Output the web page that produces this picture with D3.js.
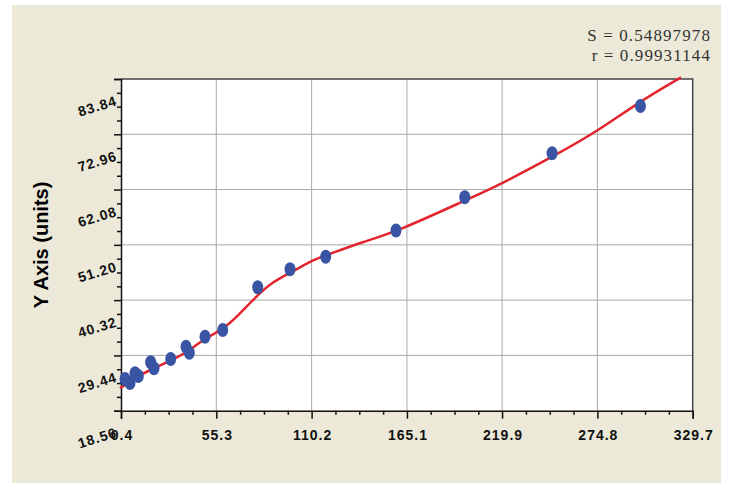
<!DOCTYPE html>
<html>
<head>
<meta charset="utf-8">
<script src="https://cdn.jsdelivr.net/npm/d3@7"></script>
<style>
  html, body { margin: 0; padding: 0; background: #ffffff; }
  svg { display: block; }
</style>
</head>
<body>
<div id="chart"></div>
<script>
// Tick labels of both axes
const xTicks = [0.4, 55.3, 110.2, 165.1, 219.9, 274.8, 329.7];
const yTicks = [18.56, 29.44, 40.32, 51.20, 62.08, 72.96, 83.84];

// Measured standards (x, y)
const pointX = [2.70, 5.58, 8.47, 10.37, 17.51, 19.41, 29.03, 37.84, 39.75, 48.79,
                58.99, 79.15, 97.76, 118.3, 158.8, 198.4, 248.7, 299.6];
const pointY = [24.80, 24.01, 25.92, 25.39, 28.09, 26.90, 28.73, 31.16, 29.97, 33.12,
                34.44, 42.85, 46.39, 48.87, 54.02, 60.56, 69.22, 78.53];

// Fitted curve
const curveX = [-0.18, 9.44, 19.01, 29.03, 38.82, 48.79, 58.99, 67.97, 77.59, 87.96,
                98.74, 112.2, 118.9, 140.0, 159.2, 199.1, 218.3, 249.1, 276.0, 299.0, 323.0];
const curveY = [22.97, 25.25, 26.90, 28.34, 30.17, 32.81, 34.54, 37.30, 40.84, 43.99,
                45.86, 48.42, 49.20, 51.82, 53.79, 60.03, 62.98, 68.55, 73.80, 79.37, 84.17];

const statLines = ['S = 0.54897978', 'r = 0.99931144'];
const yTitle = 'Y Axis (units)';

function drawChart(containerId)
{
    const width = 732;
    const height = 489;
    const plot = { left: 121, right: 692.7, top: 79, bottom: 410.7 };

    const svg = d3.select(containerId)
        .append('svg')
        .attr('width', width)
        .attr('height', height);

    // Beige panel
    svg.append('rect')
        .attr('x', 12).attr('y', 5)
        .attr('width', 709).attr('height', 478)
        .attr('fill', '#ece9d8');

    // Plot area
    svg.append('rect')
        .attr('x', plot.left).attr('y', plot.top)
        .attr('width', plot.right - plot.left)
        .attr('height', plot.bottom - plot.top)
        .attr('fill', '#ffffff');

    // Scales
    const xScale = d3.scaleLinear()
        .domain([xTicks[0], xTicks[xTicks.length - 1]])
        .range([plot.left, plot.right]);

    const yScale = d3.scaleLinear()
        .domain([yTicks[0], yTicks[yTicks.length - 1]])
        .range([plot.bottom, plot.top]);

    // Minor ticks: 3 between each pair of majors
    const minors = ticks => d3.merge(d3.pairs(ticks).map(([a, b]) =>
        [1, 2, 3].map(k => a + (b - a) * k / 4)));

    // Grid lines
    const grid = svg.append('g')
        .attr('stroke', '#a9a9a9')
        .attr('stroke-width', 1);

    grid.selectAll('.vgrid')
        .data(xTicks.slice(1, -1))
        .enter()
        .append('line')
        .attr('x1', d => xScale(d)).attr('x2', d => xScale(d))
        .attr('y1', plot.top).attr('y2', plot.bottom);

    grid.selectAll('.hgrid')
        .data(yTicks.slice(1, -1))
        .enter()
        .append('line')
        .attr('x1', plot.left).attr('x2', plot.right)
        .attr('y1', d => yScale(d)).attr('y2', d => yScale(d));

    // Top and right frame
    svg.append('path')
        .attr('d', `M${plot.left},${plot.top}H${plot.right}V${plot.bottom}`)
        .attr('fill', 'none')
        .attr('stroke', '#444')
        .attr('stroke-width', 1.5);

    // x axis
    svg.append('g')
        .attr('transform', `translate(0, ${plot.bottom})`)
        .call(d3.axisBottom(xScale).tickValues(xTicks).tickSize(8).tickFormat(''));

    svg.append('g')
        .attr('transform', `translate(0, ${plot.bottom})`)
        .call(d3.axisBottom(xScale).tickValues(minors(xTicks)).tickSize(4).tickFormat(''))
        .call(g => g.select('.domain').remove());

    svg.append('g')
        .selectAll('text')
        .data(xTicks)
        .enter()
        .append('text')
        .attr('x', d => xScale(d) + 1)
        .attr('y', 440)
        .attr('text-anchor', 'middle')
        .style('font-family', '"Liberation Sans", Arial, sans-serif')
        .style('font-size', '14px')
        .style('font-weight', 'bold')
        .style('letter-spacing', '1px')
        .attr('fill', '#111')
        .text(d => d.toFixed(1));

    // y axis
    svg.append('g')
        .attr('transform', `translate(${plot.left}, 0)`)
        .call(d3.axisLeft(yScale).tickValues(yTicks).tickSize(7).tickFormat(''));

    svg.append('g')
        .attr('transform', `translate(${plot.left}, 0)`)
        .call(d3.axisLeft(yScale).tickValues(minors(yTicks)).tickSize(4).tickFormat(''))
        .call(g => g.select('.domain').remove());

    svg.selectAll('.domain, .tick line')
        .attr('stroke', '#111')
        .attr('stroke-width', 1.5);

    svg.append('g')
        .selectAll('text')
        .data(yTicks)
        .enter()
        .append('text')
        .attr('transform', d => `translate(118, ${yScale(d) + 26}) rotate(-17)`)
        .attr('text-anchor', 'end')
        .style('font-family', '"Liberation Sans", Arial, sans-serif')
        .style('font-size', '14px')
        .style('font-weight', 'bold')
        .style('letter-spacing', '1px')
        .attr('fill', '#111')
        .text(d => d.toFixed(2));

    // y axis title
    svg.append('text')
        .attr('transform', 'translate(48, 245) rotate(-90)')
        .attr('text-anchor', 'middle')
        .style('font-family', '"Liberation Sans", Arial, sans-serif')
        .style('font-size', '20px')
        .style('font-weight', 'bold')
        .attr('fill', '#000')
        .text(yTitle);

    // Fitted curve
    const curve = curveX.map((x, i) => [x, curveY[i]]);
    svg.append('path')
        .datum(curve)
        .attr('fill', 'none')
        .attr('stroke', '#e3262d')
        .attr('stroke-width', 2.5)
        .attr('d', d3.line()
            .x(d => xScale(d[0]))
            .y(d => yScale(d[1]))
            .curve(d3.curveBasis));

    // Data points
    svg.append('g')
        .selectAll('ellipse')
        .data(pointX.map((x, i) => [x, pointY[i]]))
        .enter()
        .append('ellipse')
        .attr('cx', d => xScale(d[0]))
        .attr('cy', d => yScale(d[1]))
        .attr('rx', 5.5)
        .attr('ry', 7)
        .attr('fill', '#3a54a4');

    // Fit statistics
    svg.append('g')
        .selectAll('text')
        .data(statLines)
        .enter()
        .append('text')
        .attr('x', 711)
        .attr('y', (d, i) => 40.5 + i * 20)
        .attr('text-anchor', 'end')
        .style('font-family', '"Liberation Serif", "Times New Roman", serif')
        .style('font-size', '17px')
        .style('letter-spacing', '1.1px')
        .attr('fill', '#333')
        .text(d => d);
}

drawChart('#chart');
</script>
</body>
</html>
